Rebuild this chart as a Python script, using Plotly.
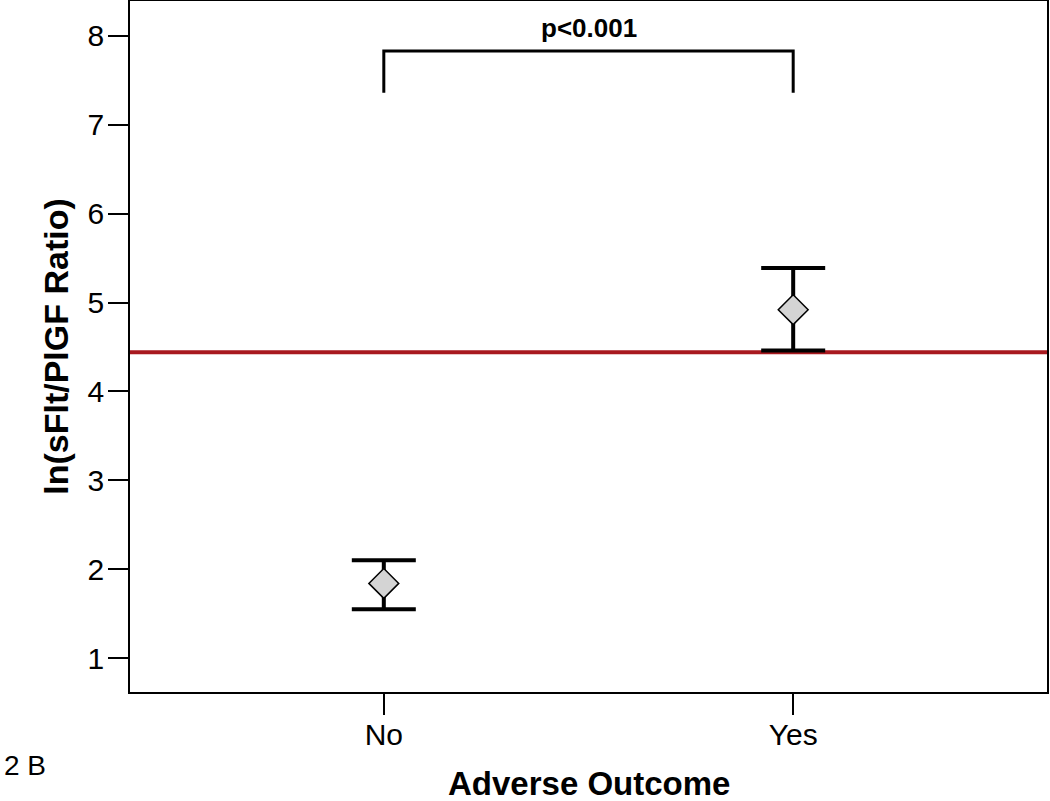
import plotly.graph_objects as go

categories = ["No", "Yes"]
means = [1.84, 4.92]
upper = [2.10, 5.39]
lower = [1.55, 4.46]
cutoff = 4.44
p_label = "p<0.001"
bracket_low = 7.36
bracket_high = 7.83
y_ticks = [1, 2, 3, 4, 5, 6, 7, 8]
x_title = "Adverse Outcome"
y_title = "ln(sFlt/PlGF Ratio)"

FONT = "Arial, Liberation Sans, sans-serif"

fig = go.Figure()
fig.add_trace(go.Scatter(
    x=categories, y=means, mode="markers",
    marker=dict(symbol="diamond", size=23, color="#d4d4d4",
                line=dict(color="black", width=1.5)),
    error_y=dict(type="data", symmetric=False,
                 array=[u - m for u, m in zip(upper, means)],
                 arrayminus=[m - l for m, l in zip(means, lower)],
                 color="black", thickness=4, width=32),
    showlegend=False,
))

fig.add_shape(type="line", xref="paper", x0=0, x1=1, yref="y", y0=cutoff, y1=cutoff,
              line=dict(color="#a8191f", width=4), layer="below")
fig.add_shape(type="path", xref="x", yref="y",
              path=f"M 0,{bracket_low} L 0,{bracket_high} L 1,{bracket_high} L 1,{bracket_low}",
              line=dict(color="black", width=3))
fig.add_annotation(x=0.5, xref="x", y=bracket_high, yref="y", text=f"<b>{p_label}</b>",
                   showarrow=False, yanchor="bottom", yshift=6,
                   font=dict(family=FONT, size=26, color="black"))
fig.add_annotation(x=0, y=0, xref="paper", yref="paper", xanchor="left", yanchor="middle",
                   xshift=-128, yshift=-73, text="2 B", showarrow=False,
                   font=dict(family=FONT, size=28, color="black"))
fig.add_annotation(x=0.5, y=0, xref="paper", yref="paper", xanchor="center", yanchor="middle",
                   yshift=-91, text=f"<b>{x_title}</b>", showarrow=False,
                   font=dict(family=FONT, size=33, color="black"))

fig.update_layout(
    width=1050, height=801,
    margin=dict(l=130, r=3, t=1, b=109, autoexpand=False),
    plot_bgcolor="white", paper_bgcolor="white",
    font=dict(family=FONT, color="black"),
    xaxis=dict(type="category", range=[-0.62, 1.62], showline=True, linecolor="black",
               linewidth=1.5, mirror=True, ticks="outside", ticklen=21, tickwidth=1.5,
               tickcolor="black", tickfont=dict(size=30), showgrid=False, zeroline=False,
               ticklabelstandoff=-6, automargin=False),
    yaxis=dict(range=[0.618, 8.393], tickvals=y_ticks, showline=True, linecolor="black",
               linewidth=1.5, mirror=True, ticks="outside", ticklen=20, tickwidth=1.5,
               tickcolor="black", tickfont=dict(size=30), showgrid=False, zeroline=False,
               ticklabelstandoff=-2, automargin=False,
               title=dict(text=f"<b>{y_title}</b>", font=dict(size=34), standoff=9)),
)

fig.write_html("out.html", config={"displayModeBar": False},
               post_script="document.body.style.margin='0';document.body.style.overflow='hidden';")
